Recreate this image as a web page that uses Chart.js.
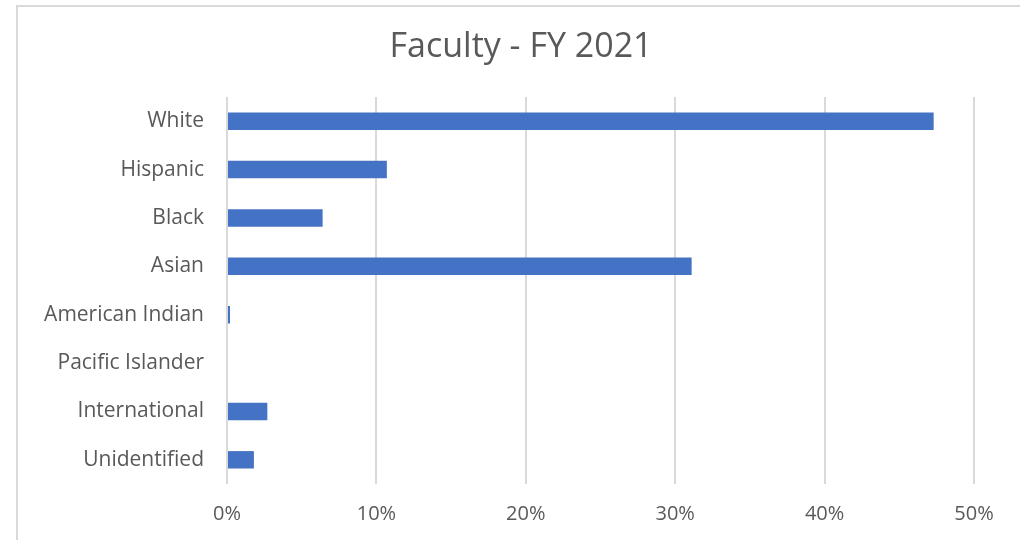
<!DOCTYPE html>
<html lang="en">
<head>
    <meta charset="UTF-8">
    <script src="https://cdn.jsdelivr.net/npm/chart.js"></script>
    <title>Faculty - FY 2021</title>
    <style>
        body { margin: 0; background: #fff; }
        #frame {
            position: absolute; left: 0; top: 0; width: 1020px; height: 540px; overflow: hidden;
        }
        #border {
            position: absolute; left: 16px; top: 5px; width: 1100px; height: 600px;
            border-left: 2px solid #d9d9d9; border-top: 2px solid #d9d9d9;
        }
        #wrap { position: absolute; left: 0; top: 0; width: 1020px; height: 540px; }
    </style>
</head>
<body>
    <div id="frame">
        <div id="border"></div>
        <div id="wrap"><canvas id="faculty"></canvas></div>
    </div>
    <script>
        // data
        const groups = ['White', 'Hispanic', 'Black', 'Asian', 'American Indian', 'Pacific Islander', 'International', 'Unidentified'];
        const shares = [47.3, 10.7, 6.4, 31.1, 0.2, 0, 2.7, 1.8];
        const pctTicks = [0, 10, 20, 30, 40, 50];
        const chartTitle = 'Faculty - FY 2021';

        const labelFont = "'Open Sans', 'DejaVu Sans', sans-serif";

        // the title sits centred on the whole frame, not on the padded chart box,
        // so it is drawn here instead of by the title plugin
        const frameTitle = {
            id: 'frameTitle',
            afterDraw(chart) {
                const ctx = chart.ctx;
                ctx.save();
                ctx.font = "34px " + labelFont;
                ctx.fillStyle = '#595959';
                ctx.textAlign = 'center';
                ctx.textBaseline = 'middle';
                ctx.fillText(chartTitle, 521, 47);
                ctx.restore();
            }
        };

        new Chart(document.getElementById('faculty'), {
            type: 'bar',
            data: {
                labels: groups,
                datasets: [{
                    label: 'Faculty',
                    data: shares,
                    backgroundColor: '#4472C4',
                    borderWidth: 0,
                    categoryPercentage: 1,
                    barPercentage: 0.36
                }]
            },
            options: {
                indexAxis: 'y',
                responsive: true,
                maintainAspectRatio: false,
                animation: false,
                layout: { padding: { left: 0, right: 46, top: 97, bottom: 0 } },
                plugins: {
                    legend: { display: false },
                    tooltip: { enabled: false },
                    title: { display: false }
                },
                scales: {
                    x: {
                        min: 0,
                        max: 50,
                        afterBuildTicks: s => { s.ticks = pctTicks.map(v => ({ value: v })); },
                        afterFit: s => { s.height = 56; },
                        ticks: {
                            color: '#595959',
                            padding: 18,
                            font: { family: labelFont, size: 20 },
                            callback: v => v + '%'
                        },
                        grid: { color: '#d9d9d9', lineWidth: 2, drawTicks: false },
                        border: { display: false }
                    },
                    y: {
                        afterFit: s => { s.width = 227; },
                        ticks: {
                            color: '#595959',
                            padding: 23,
                            font: { family: labelFont, size: 21 }
                        },
                        grid: { display: false, drawTicks: false },
                        border: { display: false }
                    }
                }
            },
            plugins: [frameTitle]
        });
    </script>
</body>
</html>
